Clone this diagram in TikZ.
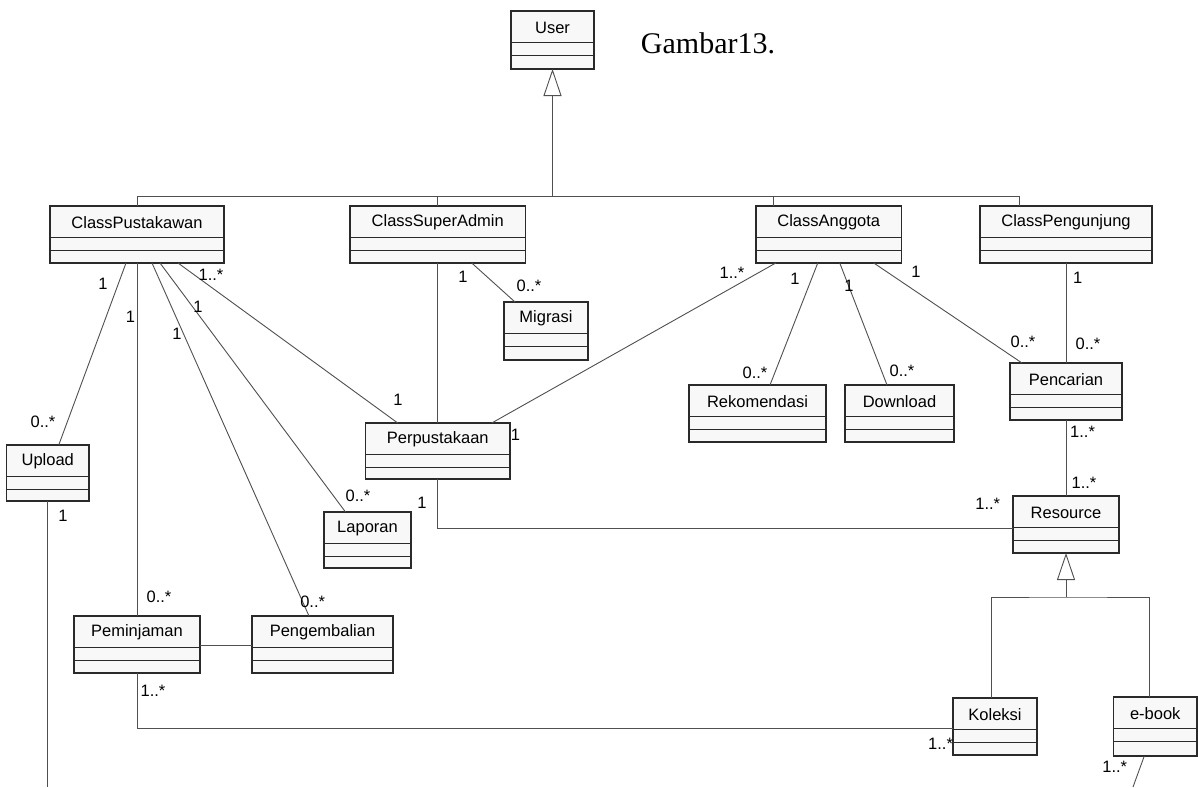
\documentclass[tikz,border=0pt]{standalone}
\usepackage{fontspec}
\setmainfont{Liberation Sans}
\newfontfamily\serifF{Liberation Serif}
\usetikzlibrary{arrows.meta,calc}
\definecolor{boxfill}{HTML}{F8F8F8}
\definecolor{boxline}{HTML}{2A2A2A}
\definecolor{conline}{HTML}{505050}
\tikzset{
  clsbox/.style={draw=boxline, line width=1.15pt, fill=boxfill, inner sep=0pt, outer sep=0pt},
  divline/.style={draw=boxline, line width=0.9pt},
  clstext/.style={font=\fontsize{16.5}{18}\selectfont, inner sep=0pt},
  assoc/.style={draw=conline, line width=0.9pt},
  gen/.style={assoc, -{Triangle[open,length=27pt,width=18pt,line width=0.9pt]}},
  mult/.style={font=\fontsize{16.5}{18}\selectfont, inner sep=0pt}
}
\newcommand{\umlbox}[6]{%
  \node[clsbox, minimum width={(#4-#2)*1pt}, minimum height={(#5-#3)*1pt}] (#1) at ({(#2+#4)/2},{(#3+#5)/2}) {};
  \draw[divline] ([yshift=-31.5pt]#1.north west) -- ([yshift=-31.5pt]#1.north east);
  \draw[divline] ([yshift=-44.5pt]#1.north west) -- ([yshift=-44.5pt]#1.north east);
  \node[clstext] (#1-t) at ([yshift=-16.5pt]#1.north) {#6};
}
\begin{document}
\begin{tikzpicture}[x=1pt,y=-1pt]
\useasboundingbox[fill=white] (0,0) rectangle (1198,787);

% classes
\umlbox{user}{511}{11}{594}{69}{User}
\umlbox{cp}{50}{206}{224}{263}{ClassPustakawan}
\umlbox{cs}{350}{206}{525.5}{263}{ClassSuperAdmin}
\umlbox{ca}{756}{206}{901.5}{263}{ClassAnggota}
\umlbox{cg}{980}{206}{1152}{263}{ClassPengunjung}
\umlbox{mig}{504}{302}{588}{360}{Migrasi}
\umlbox{perp}{365.5}{423}{510}{479}{Perpustakaan}
\umlbox{upl}{6.5}{445}{89}{501}{Upload}
\umlbox{lap}{324}{512}{411}{568}{Laporan}
\umlbox{pem}{74}{616}{200}{673}{Peminjaman}
\umlbox{peng}{252}{616}{393}{673}{Pengembalian}
\umlbox{rek}{689}{385}{826}{442}{Rekomendasi}
\umlbox{down}{845}{385}{954}{442}{Download}
\umlbox{penc}{1010}{363}{1122}{420}{Pencarian}
\umlbox{res}{1013}{496}{1119}{553}{Resource}
\umlbox{kol}{953}{698}{1037}{755}{Koleksi}
\umlbox{ebook}{1113.5}{697}{1197}{756}{e-book}

\node[font=\serifF\fontsize{30}{32}\selectfont, inner sep=0pt] (title) at (708,43) {Gambar13.};

% generalization User
\coordinate (uj) at (552.5,196);
\coordinate (ca-t) at ([xshift=-55pt]ca.north);
\coordinate (cg-t) at ([xshift=-47pt]cg.north);
\draw[assoc] (cp.north) |- (cg-t |- uj) -- (cg-t);
\draw[assoc] (cs.north) -- (cs.north |- uj);
\draw[assoc] (ca-t) -- (ca-t |- uj);
\draw[gen] (uj) -- (user.south);

% generalization Resource
\coordinate (rj) at (res.south |- 0,597);
\coordinate (kol-t) at ([xshift=-4pt]kol.north);
\coordinate (eb-t) at ([xshift=-5.5pt]ebook.north);
\draw[assoc] (kol-t) |- (rj) -| (eb-t);
\draw[gen] (rj) -- (res.south);

% associations from ClassPustakawan
\draw[assoc] ([xshift=-11pt]cp.south) -- ([xshift=11pt]upl.north);
\draw[assoc] (cp.south) -- (pem.north);
\draw[assoc] ([xshift=15pt]cp.south) -- ([xshift=-13.5pt]peng.north);
\draw[assoc] ([xshift=23pt]cp.south) -- ([xshift=-22pt]lap.north);
\draw[assoc] ([xshift=41pt]cp.south) -- ([xshift=-40pt]perp.north);
% ClassSuperAdmin
\draw[assoc] (cs.south) -- (perp.north);
\draw[assoc] ([xshift=34pt]cs.south) -- ([xshift=-31pt]mig.north);
% ClassAnggota
\draw[assoc] ([xshift=-53pt]ca.south) -- ([xshift=54pt]perp.north);
\draw[assoc] ([xshift=-11pt]ca.south) -- ([xshift=12.5pt]rek.north);
\draw[assoc] ([xshift=11pt]ca.south) -- ([xshift=-12.5pt]down.north);
\draw[assoc] ([xshift=45pt]ca.south) -- ([xshift=-44pt]penc.north);
% ClassPengunjung / Pencarian / Resource
\draw[assoc] (cg.south) -- (penc.north);
\draw[assoc] (penc.south) -- (res.north);
\draw[assoc] (perp.south) |- ([yshift=-3.5pt]res.west);
% Peminjaman
\draw[assoc] ([yshift=-1pt]pem.east) -- ([yshift=-1pt]peng.west);
\draw[assoc] (pem.south) |- ([yshift=-1.5pt]kol.west);
% free ends
\coordinate (uplend) at (upl.south |- 0,787);
\draw[assoc] (upl.south) -- (uplend);
\coordinate (ebend) at (1133,787);
\draw[assoc] ([xshift=-11pt]ebook.south) -- (ebend);

% multiplicities
\node[mult] (m1) at (103,284) {1};
\node[mult] (m2) at (43,422) {0..*};
\node[mult] (m3) at (130.5,317) {1};
\node[mult] (m4) at (177,334) {1};
\node[mult] (m5) at (198,307) {1};
\node[mult] (m6) at (211,275) {1..*};
\node[mult] (m7) at (398,400) {1};
\node[mult] (m8) at (463,277) {1};
\node[mult] (m9) at (529,286) {0..*};
\node[mult] (m10) at (515.5,435) {1};
\node[mult] (m11) at (732,273) {1..*};
\node[mult] (m12) at (795,279) {1};
\node[mult] (m13) at (755,373) {0..*};
\node[mult] (m14) at (849,286) {1};
\node[mult] (m15) at (902,371) {0..*};
\node[mult] (m16) at (916,272) {1};
\node[mult] (m17) at (1023,342) {0..*};
\node[mult] (m18) at (1077.6,278) {1};
\node[mult] (m19) at (1088,344) {0..*};
\node[mult] (m20) at (1082.6,432) {1..*};
\node[mult] (m21) at (1084,483) {1..*};
\node[mult] (m22) at (987.7,504) {1..*};
\node[mult] (m23) at (422,503) {1};
\node[mult] (m24) at (358,496) {0..*};
\node[mult] (m25) at (63,516) {1};
\node[mult] (m26) at (159,597) {0..*};
\node[mult] (m27) at (312.7,602) {0..*};
\node[mult] (m28) at (153,691) {1..*};
\node[mult] (m29) at (940.6,744) {1..*};
\node[mult] (m30) at (1114.7,767) {1..*};
\end{tikzpicture}
\end{document}
